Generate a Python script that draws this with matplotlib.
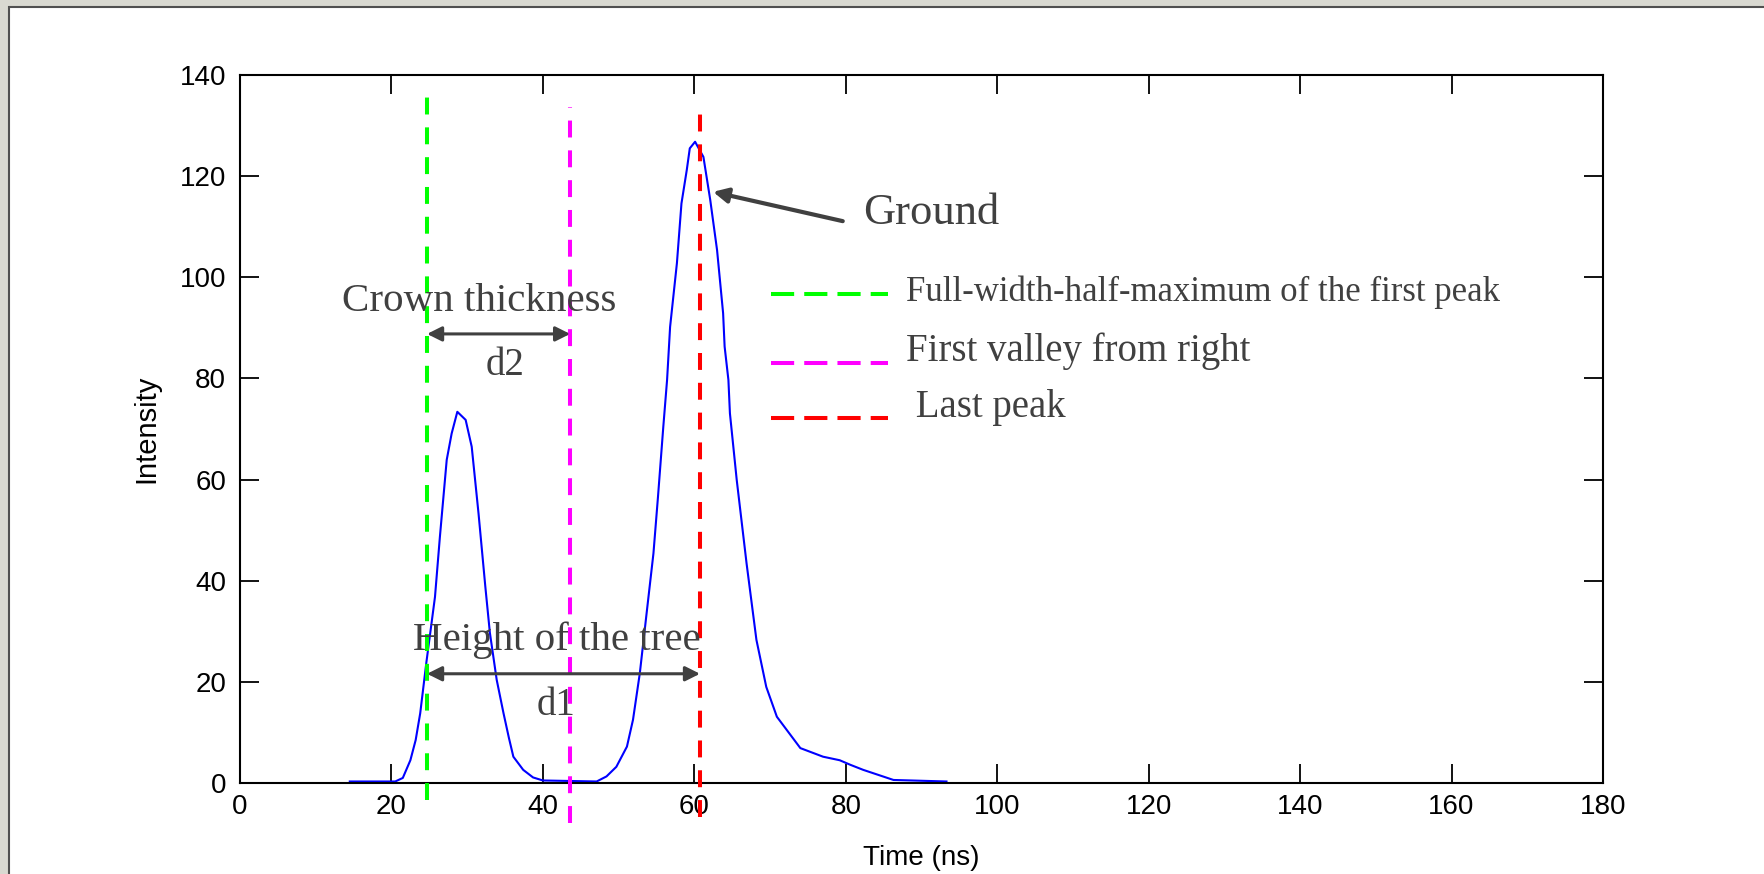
import matplotlib
matplotlib.use("Agg")
import matplotlib.pyplot as plt
from matplotlib.patches import Rectangle


# DATA
time_ns = [14.5, 20.5, 21.5, 22.5, 23.2, 23.8, 24.6, 25.75, 26.4, 27.3, 27.95, 28.7, 29.8, 30.6,
           31.5, 32.4, 33.0, 33.9, 34.8, 35.5, 36.1, 37.4, 38.7, 40.0, 47.1, 48.4, 49.7, 51.1,
           51.9, 52.8, 53.7, 54.6, 55.2, 55.9, 56.4, 56.8, 57.7, 58.3, 59.0, 59.4, 60.1,
           61.2, 62.1, 63.0, 63.8, 64.0, 64.5, 64.7, 65.6, 66.9, 68.2, 69.5, 70.9, 72.2,
           74.0, 77.0, 79.2, 80.6, 82.3, 84.1, 86.3, 93.3]
intensity = [0.3, 0.3, 1.0, 4.5, 8.5, 13.8, 23.7, 36.8, 48.7, 63.9, 69.1, 73.4, 71.8, 66.5,
             53.3, 38.8, 29.7, 20.4, 13.8, 9.0, 5.2, 2.6, 1.1, 0.5, 0.3, 1.3, 3.2, 7.2,
             12.5, 21.7, 33.6, 45.4, 56.6, 70.4, 79.7, 90.2, 102.8, 114.6, 121.2, 125.5, 126.8,
             123.8, 115.3, 105.4, 92.9, 86.3, 79.7, 73.1, 59.9, 43.4, 28.3, 19.0, 13.1, 10.5,
             6.9, 5.2, 4.5, 3.6, 2.6, 1.7, 0.6, 0.3]

# marker lines: x position, y start, y end
marker_names = ['Full-width-half-maximum of the first peak', 'First valley from right', ' Last peak']
marker_x = [24.7, 43.6, 60.75]
marker_ybottom = [-3.4, -7.9, -6.7]
marker_ytop = [136.4, 133.7, 133.7]
marker_colors = ['#00ff00', '#ff00ff', '#ff0000']

xticks = list(range(0, 181, 20))
yticks = list(range(0, 141, 20))

# STYLE
serif = ['Liberation Serif', 'DejaVu Serif']
sans = ['Liberation Sans', 'DejaVu Sans']
textColor = '#404040'

fig = plt.figure(figsize=(17.65, 8.74), dpi=100, facecolor='#d9d9d1')
# white slide panel with dark edge on the left/top (behind the axes)
fig.patches.append(Rectangle((9 / 1765, -0.01), 1.01, 1.01 - 7 / 874, transform=fig.transFigure,
                             facecolor='white', edgecolor='#505050', linewidth=1.5, zorder=-10))

ax = fig.add_axes([240 / 1765, 1 - 783 / 874, 1363 / 1765, 708 / 874])
ax.set_xlim(0, 180)
ax.set_ylim(0, 140)
ax.set_xticks(xticks)
ax.set_yticks(yticks)
ax.tick_params(direction='in', top=True, right=True, length=14, width=1.3, labelsize=20,
               colors='black')
ax.tick_params(axis='x', pad=8)
ax.tick_params(axis='y', pad=10)
for label in ax.get_xticklabels() + ax.get_yticklabels():
    label.set_fontfamily(sans)
for spine in ax.spines.values():
    spine.set_linewidth(1.5)

ax.set_xlabel('Time (ns)', fontsize=20, family=sans, va='center')
ax.xaxis.set_label_coords(0.5, -0.106)
ax.set_ylabel('Intensity', fontsize=21, family=sans, va='center', ha='center')
ax.yaxis.set_label_coords(-0.069, 0.5)

# the waveform
ax.plot(time_ns, intensity, color='#0000ff', lw=1.5, zorder=2)

# vertical markers (run past the axes like the original)
for i in range(len(marker_x)):
    ax.plot([marker_x[i], marker_x[i]], [marker_ybottom[i], marker_ytop[i]], color=marker_colors[i],
            lw=2.9, linestyle=(0, (4.2, 3.2)), clip_on=False, zorder=3)

# hand-made legend
legendY = [96.7, 83.1, 72.2]
legendTextY = [95.4, 83.4, 72.4]
legendSize = [25, 28, 28]
for i in range(len(marker_names)):
    ax.plot([70.1, 85.6], [legendY[i], legendY[i]], color=marker_colors[i], lw=2.9,
            linestyle=(0, (5.75, 2.5)), zorder=3)
    ax.text(87.95, legendTextY[i], marker_names[i], fontsize=legendSize[i],
            family=serif, color=textColor, va='baseline', ha='left')

# annotations
arrowStyle = dict(arrowstyle='<|-|>', color=textColor, lw=2.2, mutation_scale=22, shrinkA=0, shrinkB=0)
ax.annotate('', xy=(marker_x[1], 88.8), xytext=(marker_x[0], 88.8), arrowprops=arrowStyle, zorder=4)
ax.annotate('', xy=(marker_x[2], 21.6), xytext=(marker_x[0], 21.6), arrowprops=arrowStyle, zorder=4)
ax.text(13.5, 93.4, 'Crown thickness', fontsize=29.5, family=serif, color=textColor, va='baseline')
ax.text(32.5, 80.7, 'd2', fontsize=28, family=serif, color=textColor, va='baseline')
ax.text(22.85, 26.3, 'Height of the tree', fontsize=29.5, family=serif, color=textColor, va='baseline')
ax.text(39.2, 13.4, 'd1', fontsize=28, family=serif, color=textColor, va='baseline')

ax.annotate('', xy=(62.47, 116.9), xytext=(79.6, 111.1),
            arrowprops=dict(arrowstyle='-|>', color=textColor, lw=3, mutation_scale=22,
                            shrinkA=0, shrinkB=0))
ax.text(82.3, 110.5, 'Ground', fontsize=32, family=serif, color=textColor, va='baseline')

fig.savefig('out.png', dpi=100, facecolor=fig.get_facecolor())
